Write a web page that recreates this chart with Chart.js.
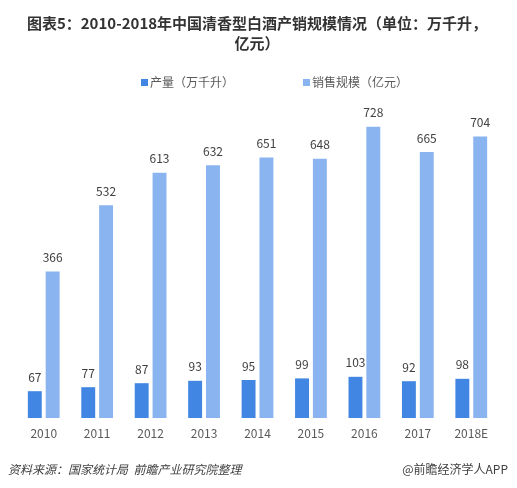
<!DOCTYPE html>
<html>
<head>
<meta charset="utf-8">
<script src="https://cdn.jsdelivr.net/npm/chart.js@4/dist/chart.umd.min.js"></script>
<style>
html,body{margin:0;padding:0;background:#fff;}
#wrap{width:517px;height:488px;position:relative;}
</style>
</head>
<body>
<div id="wrap"><canvas id="c" width="517" height="488"></canvas></div>
<script>
const categories = ['2010','2011','2012','2013','2014','2015','2016','2017','2018E'];
const production = [67, 77, 87, 93, 95, 99, 103, 92, 98];
const salesScale = [366, 532, 613, 632, 651, 648, 728, 665, 704];
const seriesNames = ['产量（万千升）', '销售规模（亿元）'];
const titleLines = ['图表5：2010-2018年中国清香型白酒产销规模情况（单位：万千升，', '亿元）'];
const sourceText = '资料来源：国家统计局  前瞻产业研究院整理';
const creditText = '@前瞻经济学人APP';

const DARK = '#4186E2';
const LIGHT = '#8AB4F0';
const FONT = '"Noto Sans CJK SC", "Noto Sans", sans-serif';

const decorPlugin = {
  id: 'decor',
  afterDraw(chart) {
    const ctx = chart.ctx;
    ctx.save();
    // title
    ctx.fillStyle = '#333333';
    ctx.font = 'bold 15px ' + FONT;
    ctx.textAlign = 'center';
    ctx.textBaseline = 'middle';
    ctx.fillText(titleLines[0], 257, 23);
    ctx.fillText(titleLines[1], 257, 43);
    // legend
    const legendX = [141, 303];
    const colors = [DARK, LIGHT];
    ctx.font = '12px ' + FONT;
    ctx.textAlign = 'left';
    chart.data.datasets.forEach((ds, i) => {
      ctx.fillStyle = colors[i];
      ctx.fillRect(legendX[i], 79, 7, 7);
      ctx.fillStyle = '#595959';
      ctx.fillText(ds.label, legendX[i] + 9, 82.5);
    });
    // value labels
    ctx.font = '12px ' + FONT;
    ctx.textAlign = 'center';
    ctx.textBaseline = 'middle';
    ctx.fillStyle = '#404040';
    chart.data.datasets.forEach((ds, i) => {
      const meta = chart.getDatasetMeta(i);
      meta.data.forEach((bar, j) => {
        ctx.fillText(String(ds.data[j]), bar.x, bar.y - 14);
      });
    });
    // footer
    ctx.textAlign = 'left';
    ctx.fillStyle = '#404040';
    ctx.font = 'italic 12px ' + FONT;
    ctx.fillText(sourceText, 8, 469);
    ctx.font = '12px ' + FONT;
    ctx.textAlign = 'right';
    ctx.fillText(creditText, 508, 469);
    ctx.restore();
  }
};

new Chart(document.getElementById('c'), {
  type: 'bar',
  data: {
    labels: categories,
    datasets: [
      { label: seriesNames[0], data: production, backgroundColor: DARK },
      { label: seriesNames[1], data: salesScale, backgroundColor: LIGHT }
    ]
  },
  options: {
    responsive: false,
    animation: false,
    events: [],
    layout: { padding: { top: 98, left: 17, right: 19, bottom: 39.6 } },
    categoryPercentage: 0.668,
    barPercentage: 0.78,
    plugins: {
      legend: { display: false },
      title: { display: false },
      tooltip: { enabled: false }
    },
    scales: {
      x: {
        grid: { display: false, drawTicks: false },
        border: { display: false },
        ticks: { color: '#595959', font: { family: FONT, size: 12 }, padding: 8, maxRotation: 0, autoSkip: false }
      },
      y: {
        display: false,
        min: 0,
        max: 800
      }
    }
  },
  plugins: [decorPlugin]
});
</script>
</body>
</html>
